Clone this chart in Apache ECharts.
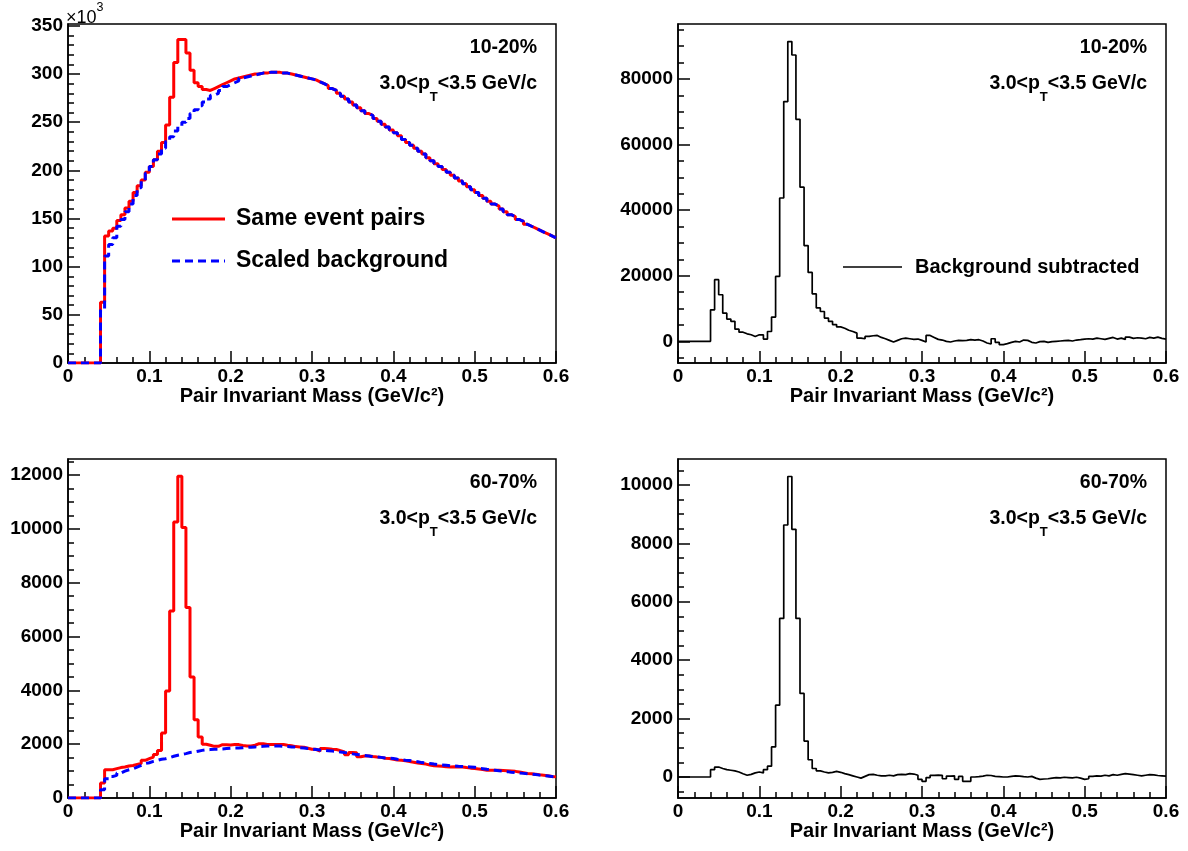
<!DOCTYPE html>
<html>
<head>
<meta charset="utf-8">
<script src="https://cdn.jsdelivr.net/npm/echarts@6.0.0/dist/echarts.min.js"></script>
<style>
html,body{margin:0;padding:0;background:#fff;}
#chart{width:1188px;height:851px;}
</style>
</head>
<body>
<div id="chart"></div>
<script>
// ---------------- DATA ----------------
// Histogram binning: 120 bins of width 0.005 GeV/c^2 from 0 to 0.6
const binEdges = Array.from({length: 121}, (_, i) => Math.round(i * 5) / 1000);

const xTickLabels = [0, 0.1, 0.2, 0.3, 0.4, 0.5, 0.6];

// Top-left: 10-20%, values in units of 10^3
const sameEvent_10_20 = [
  0,0,0,0,0,0,0,0,
  63,132,137,140,148,154,161,168,177,184,190,198,
  204,211,220,229,247,276,312,336,336,322,
  304,291,287,284,283,285,287,289,291,293,
  295,296,297,298,299,300,300,301,301,302,
  302,302,301,301,300,299,298,297,296,295,
  294,292,290,288,285,283,280,277,274,271,
  268,265,262,259,257,254,251,248,245,242,
  239,236,232,229,226,223,220,217,213,210,
  207,204,201,198,195,192,189,186,183,180,
  177,174,171,168,165,163,160,157,154,152,
  149,147,144,142,140,138,136,134,132,130
];
const scaledBkg_10_20 = [
  0,0,0,0,0,0,0,0,
  55,111,123,130,142,149,157,165,174,182,189,197,
  204,211,217,223,230,235,241,246,250,254,
  259,263,267,271,274,278,280,283,287,289,
  291,293,296,297,298,299,300,301,301,302,
  302,302,301,301,300,299,298,297,296,295,
  294,292,290,288,285,283,280,277,274,271,
  268,265,262,259,257,254,251,248,245,242,
  239,236,232,229,226,223,220,217,213,210,
  207,204,201,198,195,192,189,186,183,180,
  177,174,171,168,165,163,160,157,154,152,
  149,147,144,142,140,138,136,134,132,130
];
// Top-right: 10-20% background subtracted
const subtracted_10_20 = [
  0,0,0,0,0,0,0,0,
  9600,18800,14200,8600,6800,6100,3700,2800,2300,2000,1500,2000,
  2000,700,3000,7400,19800,43700,73100,91400,87300,67700,
  47000,29200,21000,14500,10200,9100,7100,6100,5100,4400,
  4000,3400,3000,2500,1000,800,1500,1700,1800,1200,
  800,300,-200,300,800,1000,800,600,700,300,
  -200,1800,1200,600,400,0,-200,100,300,200,
  300,500,400,500,100,-500,-800,800,-300,-1000,
  -700,-300,0,-200,400,300,-300,-500,-100,0,
  -300,-100,0,100,200,300,100,400,500,700,
  800,700,1000,800,600,900,1200,700,1000,600,
  1300,900,1100,1000,800,1200,1000,1300,900,700
];
// Bottom-left: 60-70%
const sameEvent_60_70 = [
  0,0,0,0,0,0,0,0,
  560,1050,1050,1090,1130,1150,1190,1210,1250,1280,1400,1460,
  1520,1620,1770,2420,3980,6950,10260,11960,10050,7080,
  4500,2910,2270,2000,1960,1920,1920,1980,1980,1970,
  1985,1985,1950,1935,1935,1960,2020,2020,1990,1985,
  1985,1990,1985,1960,1940,1910,1900,1890,1850,1810,
  1810,1740,1840,1830,1810,1800,1760,1710,1610,1690,
  1680,1530,1560,1565,1540,1520,1510,1480,1465,1440,
  1410,1400,1380,1360,1330,1300,1280,1260,1230,1200,
  1190,1180,1160,1155,1160,1150,1155,1130,1110,1095,
  1080,1060,1035,1030,1035,1030,1020,1010,1000,990,
  970,940,910,900,880,860,845,830,800,785
];
const scaledBkg_60_70 = [
  0,0,0,0,0,0,0,0,
  310,720,800,840,930,1000,1050,1090,1150,1210,1280,1310,
  1360,1400,1440,1460,1500,1550,1590,1620,1650,1690,
  1710,1740,1770,1790,1800,1810,1810,1820,1840,1850,
  1860,1860,1870,1880,1890,1900,1910,1920,1930,1935,
  1935,1930,1920,1910,1900,1890,1870,1860,1840,1820,
  1800,1780,1775,1760,1745,1730,1712,1690,1670,1640,
  1613,1600,1580,1560,1530,1527,1510,1490,1480,1465,
  1440,1420,1403,1390,1370,1350,1316,1300,1280,1260,
  1242,1230,1215,1200,1192,1180,1170,1160,1155,1140,
  1110,1090,1068,1050,1030,1010,993,980,960,944,
  930,915,900,885,870,850,830,815,800,783
];
// Bottom-right: 60-70% background subtracted
const subtracted_60_70 = [
  0,0,0,0,0,0,0,0,
  250,340,290,250,230,210,170,110,60,90,140,170,
  140,250,370,1030,2460,5430,8630,10290,8480,5430,
  2860,1230,590,290,210,170,140,160,190,160,
  115,80,40,0,-40,20,80,90,60,35,
  35,60,40,80,90,80,115,100,60,-80,
  -150,-20,58,60,58,-60,30,40,-80,20,
  -150,-150,0,10,30,58,50,20,10,0,
  0,20,40,30,10,0,20,-40,-80,-70,
  -60,-40,-20,-30,-10,-20,-30,-10,-40,-80,
  -60,20,40,30,60,40,80,60,90,115,
  100,80,60,40,60,80,70,50,40,30
];

// Y tick labels per panel
const yTicks_TL = [0, 50, 100, 150, 200, 250, 300, 350];
const yTicks_TR = [0, 20000, 40000, 60000, 80000];
const yTicks_BL = [0, 2000, 4000, 6000, 8000, 10000, 12000];
const yTicks_BR = [0, 2000, 4000, 6000, 8000, 10000];

const centralityTop = '10-20%';
const centralityBottom = '60-70%';
const xTitle = 'Pair Invariant Mass (GeV/c²)';

// ---------------- HELPERS ----------------
const FONT = '"Liberation Sans", Arial, Helvetica, sans-serif';
function steps(vals) {
  const pts = vals.map((v, i) => [binEdges[i], v]);
  pts.push([binEdges[binEdges.length - 1], vals[vals.length - 1]]);
  return pts;
}
function minorRange(from, to, step) {
  const out = [];
  for (let v = from; v <= to + 1e-9; v += step) out.push(v);
  return out;
}

const grids = [
  {left: 68, top: 24, width: 488, height: 339},
  {left: 678, top: 24, width: 488, height: 339},
  {left: 68, top: 459, width: 488, height: 339},
  {left: 678, top: 459, width: 488, height: 339}
].map(g => Object.assign({show: true, borderColor: '#000', borderWidth: 1.5, backgroundColor: 'transparent', outerBoundsMode: 'none', containLabel: false}, g));

const axisLineStyle = {color: '#000', width: 1.5};

function makeX(g) {
  return {
    gridIndex: g, type: 'value', min: 0, max: 0.6, interval: 0.1,
    axisLine: {show: true, onZero: false, lineStyle: axisLineStyle},
    axisTick: {show: true, inside: true, length: 12, lineStyle: axisLineStyle},
    minorTick: {show: true, splitNumber: 5, length: 6, lineStyle: axisLineStyle},
    splitLine: {show: false}, minorSplitLine: {show: false},
    axisLabel: {
      color: '#000', fontFamily: FONT, fontWeight: 'bold', fontSize: 19, margin: 4,
      customValues: xTickLabels,
      formatter: v => (v === 0 ? '0' : v.toFixed(1))
    },
    name: xTitle, nameLocation: 'middle', nameGap: 23,
    nameTextStyle: {color: '#000', fontFamily: FONT, fontWeight: 'bold', fontSize: 20}
  };
}
function makeYMajor(g, min, max, ticks) {
  return {
    gridIndex: g, type: 'value', position: 'left', min: min, max: max,
    axisLine: {show: true, onZero: false, lineStyle: axisLineStyle},
    axisTick: {show: true, inside: true, length: 12, lineStyle: axisLineStyle, customValues: ticks},
    splitLine: {show: false},
    axisLabel: {color: '#000', fontFamily: FONT, fontWeight: 'bold', fontSize: 19, margin: 5, customValues: ticks,
      formatter: v => String(v)}
  };
}
function makeYMinor(g, min, max, ticks) {
  return {
    gridIndex: g, type: 'value', position: 'left', offset: 0, min: min, max: max,
    axisLine: {show: false},
    axisTick: {show: true, inside: true, length: 6, lineStyle: axisLineStyle, customValues: ticks},
    splitLine: {show: false},
    axisLabel: {show: false}
  };
}

const yRanges = [
  [0, 352], [-6600, 96750], [0, 12600], [-720, 10890]
];

const yAxes = [
  makeYMajor(0, yRanges[0][0], yRanges[0][1], yTicks_TL),
  makeYMinor(0, yRanges[0][0], yRanges[0][1], minorRange(0, 350, 10)),
  makeYMajor(1, yRanges[1][0], yRanges[1][1], yTicks_TR),
  makeYMinor(1, yRanges[1][0], yRanges[1][1], minorRange(-5000, 95000, 5000)),
  makeYMajor(2, yRanges[2][0], yRanges[2][1], yTicks_BL),
  makeYMinor(2, yRanges[2][0], yRanges[2][1], minorRange(0, 12500, 500)),
  makeYMajor(3, yRanges[3][0], yRanges[3][1], yTicks_BR),
  makeYMinor(3, yRanges[3][0], yRanges[3][1], minorRange(-500, 10500, 500))
];

function histo(name, g, vals, color, width, dash) {
  return {
    name: name, type: 'line', xAxisIndex: g, yAxisIndex: 2 * g, step: 'end',
    symbol: 'none', showSymbol: false, data: steps(vals), silent: true,
    lineStyle: {color: color, width: width, type: dash || 'solid'},
    itemStyle: {color: color}, emphasis: {disabled: true}
  };
}

const series = [
  histo('Same event pairs', 0, sameEvent_10_20, '#ff0000', 3),
  histo('Scaled background', 0, scaledBkg_10_20, '#0000ff', 3, [8, 5]),
  histo('Background subtracted', 1, subtracted_10_20, '#000000', 1.7),
  histo('Same event pairs', 2, sameEvent_60_70, '#ff0000', 3),
  histo('Scaled background', 2, scaledBkg_60_70, '#0000ff', 3, [8, 5]),
  histo('Background subtracted', 3, subtracted_60_70, '#000000', 1.7)
];

function labelText(x, y, text) {
  return {type: 'text', x: x, y: y, silent: true,
    style: {text: text, font: 'bold 19.5px ' + FONT, fill: '#000', align: 'right', verticalAlign: 'middle', textAlign: 'right', textVerticalAlign: 'middle'}};
}
function ptText(x, yTop) {
  return {type: 'text', x: x, y: yTop, silent: true,
    style: {
      text: '{a|3.0<p}{s|T}{a|<3.5 GeV/c}',
      align: 'right', verticalAlign: 'top', textAlign: 'right', textVerticalAlign: 'top',
      fill: '#000',
      rich: {
        a: {fontFamily: FONT, fontWeight: 'bold', fontSize: 19.5, lineHeight: 22, verticalAlign: 'top', fill: '#000'},
        s: {fontFamily: FONT, fontWeight: 'bold', fontSize: 13, lineHeight: 13, verticalAlign: 'top', padding: [17, 0, 0, 0], fill: '#000'}
      }
    }};
}
function legendLine(x1, x2, y, color, width, dash) {
  return {type: 'line', silent: true, shape: {x1: x1, y1: y, x2: x2, y2: y},
    style: {stroke: color, lineWidth: width, lineDash: dash || null}};
}
function legendText(x, y, text, size) {
  return {type: 'text', x: x, y: y, silent: true,
    style: {text: text, font: 'bold ' + size + 'px ' + FONT, fill: '#000', align: 'left', verticalAlign: 'middle', textAlign: 'left', textVerticalAlign: 'middle'}};
}

const graphics = [
  // x10^3 multiplier
  {type: 'text', x: 66, y: 1, silent: true,
    style: {text: '{m|×10}{p|3}', align: 'left', verticalAlign: 'top', textAlign: 'left', textVerticalAlign: 'top', fill: '#000',
      rich: {
        m: {fontFamily: FONT, fontSize: 18, lineHeight: 20, verticalAlign: 'top', padding: [8, 0, 0, 0], fill: '#000'},
        p: {fontFamily: FONT, fontSize: 12.5, lineHeight: 12, verticalAlign: 'top', fill: '#000'}
      }}},
  labelText(537, 48, centralityTop), ptText(537, 74),
  labelText(1147, 48, centralityTop), ptText(1147, 74),
  labelText(537, 483, centralityBottom), ptText(537, 509),
  labelText(1147, 483, centralityBottom), ptText(1147, 509),
  legendLine(172, 225, 219, '#ff0000', 3),
  legendText(236, 219, 'Same event pairs', 23),
  legendLine(172, 225, 261, '#0000ff', 3, [8, 5]),
  legendText(236, 261, 'Scaled background', 23),
  legendLine(843, 902, 267, '#000000', 1.6),
  legendText(915, 267, 'Background subtracted', 20)
];

const chart = echarts.init(document.getElementById('chart'), null, {renderer: 'canvas'});
chart.setOption({
  animation: false,
  backgroundColor: '#ffffff',
  grid: grids,
  xAxis: [makeX(0), makeX(1), makeX(2), makeX(3)],
  yAxis: yAxes,
  series: series,
  graphic: graphics
});
</script>
</body>
</html>
